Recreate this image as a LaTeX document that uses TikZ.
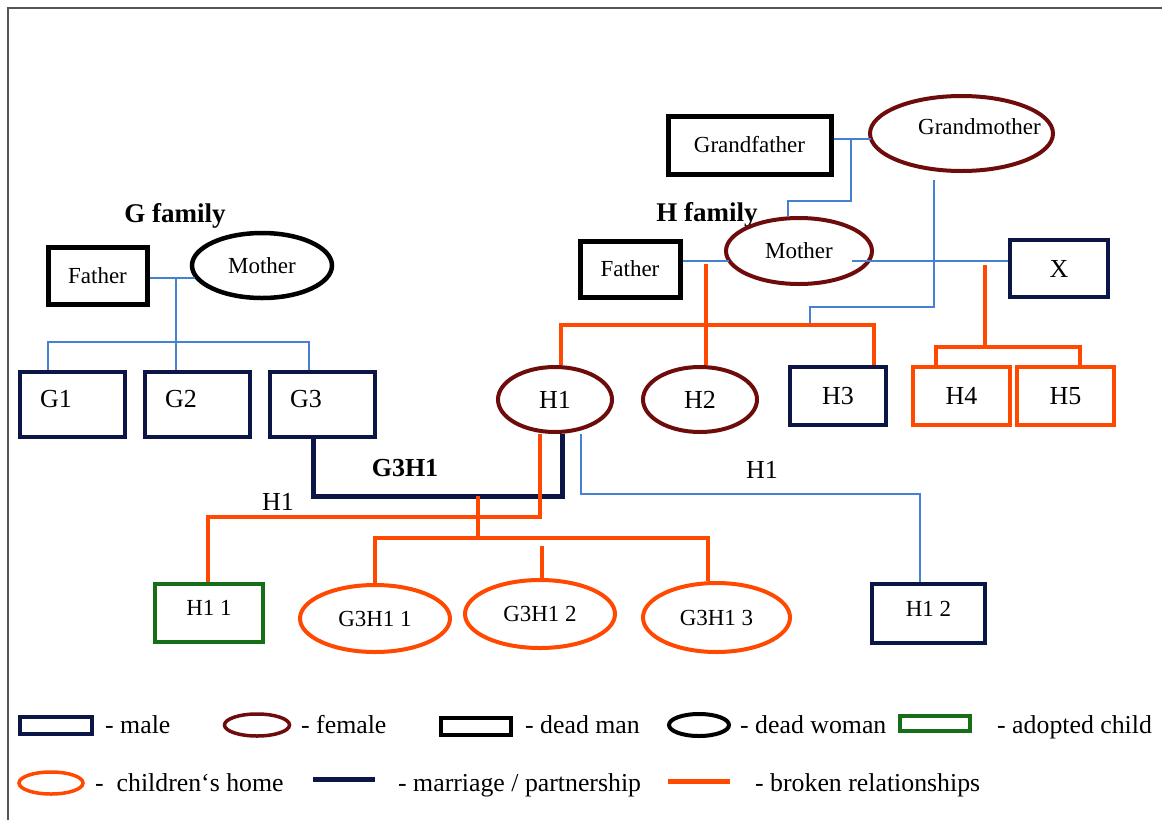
\documentclass[tikz,border=0pt]{standalone}
\usepackage{fontspec}
\setmainfont{Liberation Serif}
\usepackage{xcolor}
\usetikzlibrary{calc,shapes.geometric}

\definecolor{navy}{RGB}{12,22,70}
\definecolor{maroon}{RGB}{110,12,12}
\definecolor{brokenred}{RGB}{255,72,0}
\definecolor{kinblue}{RGB}{70,128,210}
\definecolor{adoptgreen}{RGB}{22,110,22}
\definecolor{framegray}{RGB}{85,85,85}

\newcommand{\namefont}{\fontsize{23}{27}\selectfont}
\newcommand{\kidfont}{\fontsize{26}{30}\selectfont}
\newcommand{\legfont}{\fontsize{25.8}{29}\selectfont}
\newcommand{\headfont}{\fontsize{27}{31}\selectfont\bfseries}

\begin{document}
\begin{tikzpicture}[x=1pt, y=-1pt,
  male/.style={draw=navy, line width=4pt, rectangle, inner sep=0pt},
  female/.style={draw=maroon, line width=4pt, ellipse, inner sep=0pt},
  deadman/.style={draw=black, line width=5pt, rectangle, inner sep=0pt},
  deadwoman/.style={draw=black, line width=4.5pt, ellipse, inner sep=0pt},
  adopted/.style={draw=adoptgreen, line width=4pt, rectangle, inner sep=0pt},
  homegirl/.style={draw=brokenred, line width=4pt, ellipse, inner sep=0pt},
  homeboy/.style={draw=brokenred, line width=4pt, rectangle, inner sep=0pt},
  marriage/.style={draw=navy, line width=5pt},
  broken/.style={draw=brokenred, line width=4pt},
  kin/.style={draw=kinblue, line width=1.3pt},
  legtext/.style={font=\legfont, anchor=base west, inner sep=0pt}
]

\useasboundingbox (0,0) rectangle (1162,820);

% =====================
% Page frame
% =====================
\coordinate (pageBL) at (7.5,820);
\coordinate (pageTR) at (1162,7.5);
\draw[framegray, line width=2pt] (pageBL) |- (pageTR);

% =====================
% G family
% =====================
\node[font=\headfont, anchor=base] (gTitle) at (175,222) {G family};

\node[deadman, minimum width=99, minimum height=57, font=\namefont]
  (gFather) at (97.5,275.5) {Father};
\node[deadwoman, minimum width=140, minimum height=65, font=\namefont]
  (gMother) at (262,265.5) {Mother};

\foreach \n/\x in {G1/72.5, G2/197.5, G3/322.5} {
  \node[male, minimum width=105, minimum height=65, font=\kidfont,
        text width=65pt, align=left, inner xsep=20pt, text depth=12pt]
    (\n) at (\x,404.5) {\n};
}

\coordinate (gJoin) at (176,278);
\coordinate (gKidL) at (48,342);
\coordinate (gKidR) at (309,342);

\draw[kin] (gFather.east |- gJoin) -- (gJoin -| gMother.191);
\draw[kin] (gJoin) -- (G2.north -| gJoin);
\draw[kin] (G1.north -| gKidL) |- (gKidR) -- (G3.north -| gKidR);

% =====================
% H family
% =====================
\node[font=\headfont, anchor=base] (hTitle) at (707,221) {H family};

\node[deadman, minimum width=163, minimum height=58, font=\namefont]
  (grandfather) at (749.5,145) {Grandfather};
\node[female, minimum width=183, minimum height=75,
      label={[font=\namefont, xshift=18pt, yshift=7pt]center:Grandmother}]
  (grandmother) at (961.5,133.5) {};

\node[deadman, minimum width=100, minimum height=56, font=\namefont]
  (hFather) at (630,269) {Father};
\node[female, minimum width=146, minimum height=66, font=\namefont]
  (hMother) at (799,251) {Mother};
\node[male, minimum width=98, minimum height=57, font=\kidfont]
  (x) at (1059,268.5) {X};

\node[female, minimum width=114, minimum height=65, font=\kidfont]
  (H1) at (555,399.5) {H1};
\node[female, minimum width=114, minimum height=65, font=\kidfont]
  (H2) at (700,399.5) {H2};
\node[male, minimum width=96, minimum height=58, font=\kidfont]
  (H3) at (838,396) {H3};
\foreach \n/\x in {H4/961.5, H5/1065.5} {
  \node[homeboy, minimum width=97, minimum height=58, font=\kidfont]
    (\n) at (\x,396) {\n};
}

% grandparents
\coordinate (gpJoin) at (851,139);
\coordinate (gpDrop) at (788,201);
\draw[kin] (grandfather.east |- gpJoin) -- (gpJoin -| grandmother.186);
\draw[kin] (gpJoin) |- (gpDrop) -- (hMother.north -| gpDrop);

% grandmother down to the H children
\coordinate (gmFoot) at (934,180);
\coordinate (gmTurn) at (934,307);
\coordinate (gmLand) at (810,325);
\draw[kin] (gmFoot) -- (gmTurn) -| (gmLand);

% mother and X
\coordinate (mxJoin) at (985,261);
\draw[kin] ($(hMother.center)+(53,10)$) -- (x.west |- mxJoin);

% parents of H1, H2, H3
\coordinate (hpJoin) at (706,261);
\coordinate (hKidL) at (561,325);
\coordinate (hKidR) at (874,325);
\draw[kin] (hFather.east |- hpJoin) -- (hpJoin -| hMother.190);
\draw[broken] ($(hpJoin)+(0,3)$) -- (H2.north -| hpJoin);
\draw[broken] (H1.north -| hKidL) |- (hKidR) -- (H3.north -| hKidR);

% mother + X -> H4, H5
\coordinate (xKids) at (985,347);
\coordinate (xKidL) at (936,347);
\coordinate (xKidR) at (1080,347);
\draw[broken] ($(mxJoin)+(0,4)$) -- (xKids);
\draw[broken] (H4.north -| xKidL) |- (xKidR) -- (H5.north -| xKidR);

% =====================
% Third generation
% =====================
\node[adopted, minimum width=108, minimum height=58, font=\namefont, text depth=10pt]
  (h11) at (209,613) {H1 1};
\node[homegirl, minimum width=150, minimum height=67, font=\namefont]
  (g3h11) at (375,618.5) {G3H1 1};
\node[homegirl, minimum width=150, minimum height=68, font=\namefont]
  (g3h12) at (540,614) {G3H1 2};
\node[homegirl, minimum width=147, minimum height=69, font=\namefont]
  (g3h13) at (716.5,617.5) {G3H1 3};
\node[male, minimum width=113, minimum height=59, font=\namefont, text depth=10pt]
  (h12) at (928.5,613.5) {H1 2};

% G3 -- H1 partnership
\coordinate (mLeft) at (313,496);
\coordinate (mRight) at (562,496);
\draw[marriage] (G3.south -| mLeft) |- (mRight) -- (H1.south -| mRight);
\node[font=\headfont\fontsize{26}{30}\selectfont, anchor=base]
  (g3h1Label) at (405,476) {G3H1};

% H1 -> H1 1
\coordinate (h1Foot) at (540,517);
\coordinate (h1Left) at (208,517);
\draw[broken] (H1.south -| h1Foot) |- (h1Left) -- (h11.north -| h1Left);
\node[font=\kidfont, anchor=base] (h1LabelA) at (278,510) {H1};

% G3H1 children
\coordinate (cJoin) at (478,496);
\coordinate (cBar) at (478,538);
\coordinate (cLeft) at (375,538);
\coordinate (cRight) at (708,538);
\coordinate (cMid) at (542,546);
\draw[broken] (cJoin) -- (cBar);
\draw[broken] (g3h11.north -| cLeft) |- (cRight) -- (g3h13.north -| cRight);
\draw[broken] (cMid) -- (g3h12.north -| cMid);

% H1 -> H1 2
\coordinate (h1Blue) at (581,494);
\coordinate (h12Blue) at (920,494);
\draw[kin] (H1.south -| h1Blue) |- (h12Blue) -- (h12.north -| h12Blue);
\node[font=\kidfont, anchor=base] (h1LabelB) at (762,478) {H1};

% =====================
% Legend
% =====================
\node[male, line width=3.5pt, minimum width=72, minimum height=17] (key1) at (56,725.5) {};
\node[legtext] (keyText1) at (105,733) {- male};
\node[female, line width=3.5pt, minimum width=65, minimum height=22] (key2) at (257,725) {};
\node[legtext] (keyText2) at (301,733) {- female};
\node[deadman, line width=4pt, minimum width=70, minimum height=17] (key3) at (476,726.5) {};
\node[legtext] (keyText3) at (525,733) {- dead man};
\node[deadwoman, line width=4pt, minimum width=60, minimum height=22] (key4) at (699,725) {};
\node[legtext] (keyText4) at (740,733) {- dead woman};
\node[adopted, line width=3.5pt, minimum width=70, minimum height=15] (key5) at (935,723.5) {};
\node[legtext] (keyText5) at (997,733) {- adopted child};

\node[homegirl, line width=3.5pt, minimum width=64, minimum height=22] (key6) at (51,783) {};
\node[legtext] (keyText6) at (95,791) {-~~children‘s home};
\coordinate (keyMarL) at (313,779);
\coordinate (keyMarR) at (375,779);
\draw[marriage] (keyMarL) -- (keyMarR);
\node[legtext] (keyText7) at (398,791) {- marriage / partnership};
\coordinate (keyBrL) at (668,781);
\coordinate (keyBrR) at (730,781);
\draw[broken, line width=5pt] (keyBrL) -- (keyBrR);
\node[legtext] (keyText8) at (755,791) {- broken relationships};

\end{tikzpicture}
\end{document}
